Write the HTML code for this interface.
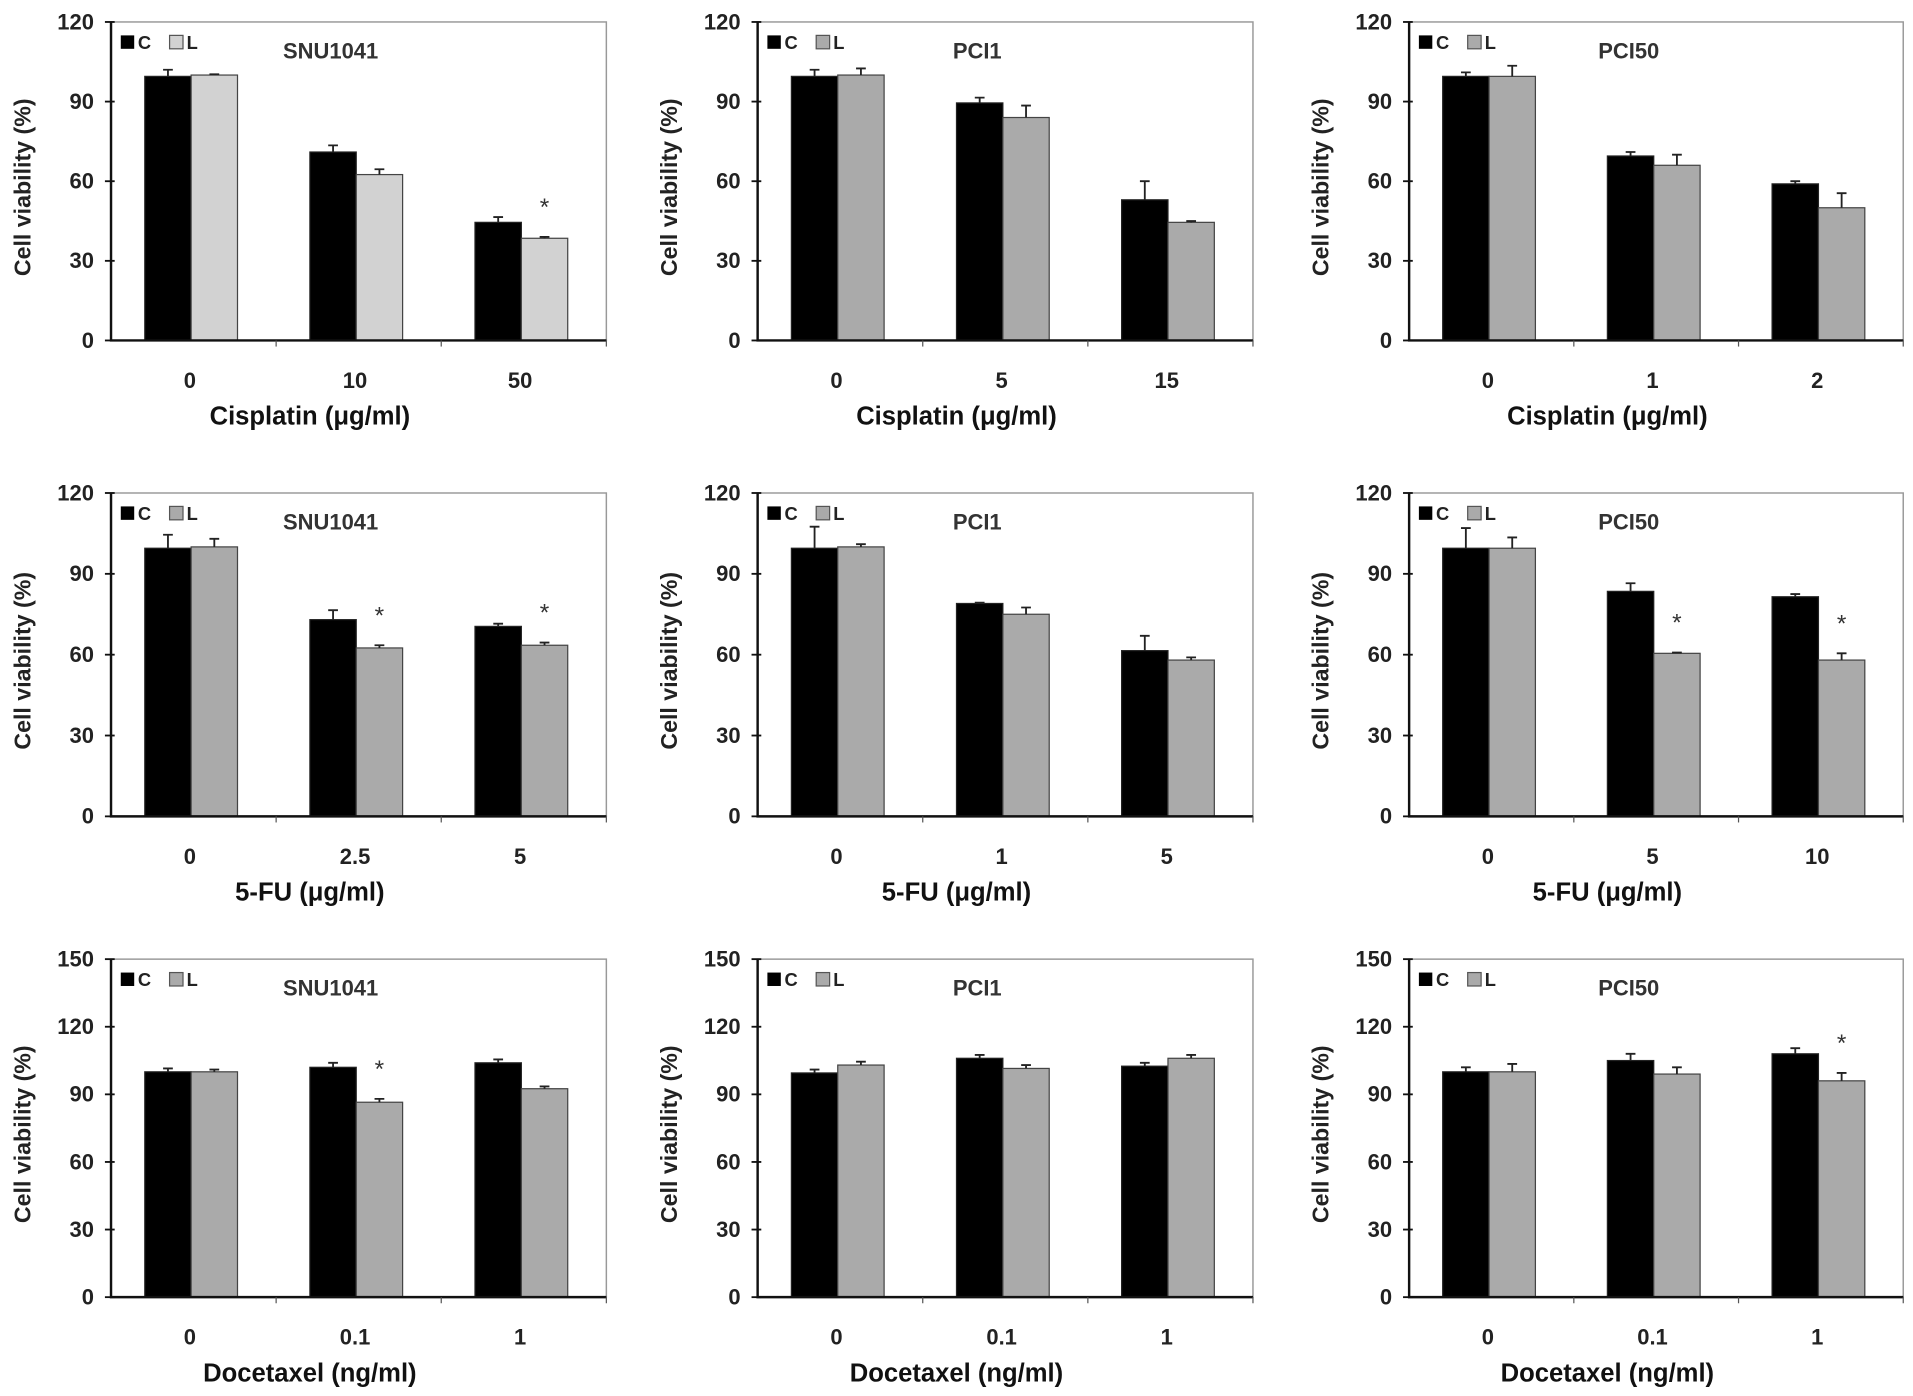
<!DOCTYPE html>
<html><head><meta charset="utf-8"><style>
html,body{margin:0;padding:0;background:#fff;}
svg{display:block;}
text{font-family:"Liberation Sans",Arial,sans-serif;}
</style></head><body>
<svg id="fig" width="1913" height="1396" viewBox="0 0 1568 1144" preserveAspectRatio="none"></svg>
<script>
const panelTitles=["SNU1041","PCI1","PCI50","SNU1041","PCI1","PCI50","SNU1041","PCI1","PCI50"];
const xTitles=["Cisplatin (μg/ml)","Cisplatin (μg/ml)","Cisplatin (μg/ml)","5-FU (μg/ml)","5-FU (μg/ml)","5-FU (μg/ml)","Docetaxel (ng/ml)","Docetaxel (ng/ml)","Docetaxel (ng/ml)"];
const categories=[["0","10","50"],["0","5","15"],["0","1","2"],["0","2.5","5"],["0","1","5"],["0","5","10"],["0","0.1","1"],["0","0.1","1"],["0","0.1","1"]];
const cValues=[[99.5,71,44.5],[99.5,89.5,53],[99.5,69.5,59],[99.5,73,70.5],[99.5,79,61.5],[99.5,83.5,81.5],[100,102,104],[99.5,106,102.5],[100,105,108]];
const cErrors=[[2.5,2.5,2],[2.5,2,7],[1.5,1.5,1],[5,3.5,1],[8,0.3,5.5],[7.5,3,1],[1.5,2,1.5],[1.5,1.5,1.5],[2,3,2.5]];
const lValues=[[100,62.5,38.5],[100,84,44.5],[99.5,66,50],[100,62.5,63.5],[100,75,58],[99.5,60.5,58],[100,86.5,92.5],[103,101.5,106],[100,99,96]];
const lErrors=[[0.3,2,0.5],[2.5,4.5,0.5],[4,4,5.5],[3,1,1],[1,2.5,1],[4,0.3,2.5],[1,1.5,1],[1.5,1.5,1.5],[3.5,3,3.5]];
const stars=[[0,0,1],[0,0,0],[0,0,0],[0,1,1],[0,0,0],[0,1,1],[0,1,0],[0,0,0],[0,0,1]];
const yTicks=[[0,30,60,90,120],[0,30,60,90,120],[0,30,60,90,120],[0,30,60,90,120,150]];
const lColors=["#d2d2d2","#aaaaaa","#aaaaaa","#aaaaaa","#aaaaaa","#aaaaaa","#aaaaaa","#aaaaaa","#aaaaaa"];

const NS="http://www.w3.org/2000/svg";
const svg=document.getElementById('fig');
function el(tag,attrs,parent,txt){const e=document.createElementNS(NS,tag);for(const k in attrs)e.setAttribute(k,attrs[k]);if(txt!==undefined)e.textContent=txt;parent.appendChild(e);return e;}
const colX=[[91,497],[621,1027],[1155,1560]];
const rowY=[[18,279],[404,669],[786,1063]];
for(let p=0;p<9;p++){
  const r=Math.floor(p/3),c=p%3;
  const [x0,x1]=colX[c],[yt,yb]=rowY[r];
  const ticks=r<2?yTicks[0]:yTicks[3];
  const ymax=ticks[ticks.length-1];
  const Y=v=>yb-(v/ymax)*(yb-yt);
  const bw=(x1-x0)/3;
  const X=i=>x0+bw*(i+0.5)-2;
  const g=el('g',{},svg);
  
  
  const fr=el('rect',{x:x0,y:yt,width:x1-x0,height:yb-yt,fill:'none',stroke:'#999','stroke-width':1.2},g);
  
  for(let i=0;i<3;i++){
    const cx=X(i),w=38;
    const b1=el('rect',{x:cx-w,y:Y(cValues[p][i]),width:w,height:yb-Y(cValues[p][i]),fill:'#000',stroke:'#222','stroke-width':1},g);
    
    const b2=el('rect',{x:cx,y:Y(lValues[p][i]),width:w,height:yb-Y(lValues[p][i]),fill:lColors[p],stroke:'#444','stroke-width':1},g);
    
    const errs=[[cx-w/2,cValues[p][i],cErrors[p][i]],[cx+w/2,lValues[p][i],lErrors[p][i]]];
    errs.forEach(([ex,v,e])=>{
      const eg=el('path',{d:`M${ex},${Y(v)} V${Y(v+e)} M${ex-4},${Y(v+e)} H${ex+4}`,stroke:'#222','stroke-width':1.5,fill:'none'},g);
      
    });
    if(stars[p][i]){
      const s=el('text',{x:cx+w/2,y:Y(lValues[p][i]+lErrors[p][i])-18,'font-size':20,'text-anchor':'middle',fill:'#333'},g,'*');
      
    }
    const xl=el('text',{x:cx-1,y:yb+39,'font-size':18,'font-weight':'bold','text-anchor':'middle',fill:'#222'},g,categories[p][i]);
    
  }
  const ax=el('path',{d:`M${x0},${yt} V${yb} H${x1}`,stroke:'#111','stroke-width':2,fill:'none'},g);
  
  for(let i=1;i<=3;i++){el('line',{x1:x0+bw*i,y1:yb,x2:x0+bw*i,y2:yb+5,stroke:'#555','stroke-width':1},g);}
  ticks.forEach(t=>{
    el('line',{x1:x0-5,y1:Y(t),x2:x0+3,y2:Y(t),stroke:'#111','stroke-width':1.5},g);
    const tl=el('text',{x:x0-14,y:Y(t)+6,'font-size':18,'font-weight':'bold','text-anchor':'end',fill:'#222'},g,t);
    
  });
  const yt2=el('text',{transform:`translate(${x0-66},${(yt+yb)/2+5}) rotate(-90)`,'font-size':19,'font-weight':'bold','text-anchor':'middle',fill:'#222'},g,'Cell viability (%)');
  
  const xt=el('text',{x:(x0+x1)/2-40,y:yb+69,'font-size':21,'font-weight':'bold','text-anchor':'middle',fill:'#111'},g,xTitles[p]);
  
  const tt=el('text',{x:x0+180,y:yt+30,'font-size':18,'font-weight':'bold','text-anchor':'middle',fill:'#333'},g,panelTitles[p]);
  
  const lg=el('g',{},g);
  
  el('rect',{x:x0+8,y:yt+11,width:11,height:11,fill:'#000'},lg);
  el('text',{x:x0+22,y:yt+22,'font-size':15,'font-weight':'bold',fill:'#222'},lg,'C');
  el('rect',{x:x0+48,y:yt+11,width:11,height:11,fill:lColors[p],stroke:'#555','stroke-width':1},lg);
  el('text',{x:x0+62,y:yt+22,'font-size':15,'font-weight':'bold',fill:'#222'},lg,'L');
}
</script>
</body></html>
